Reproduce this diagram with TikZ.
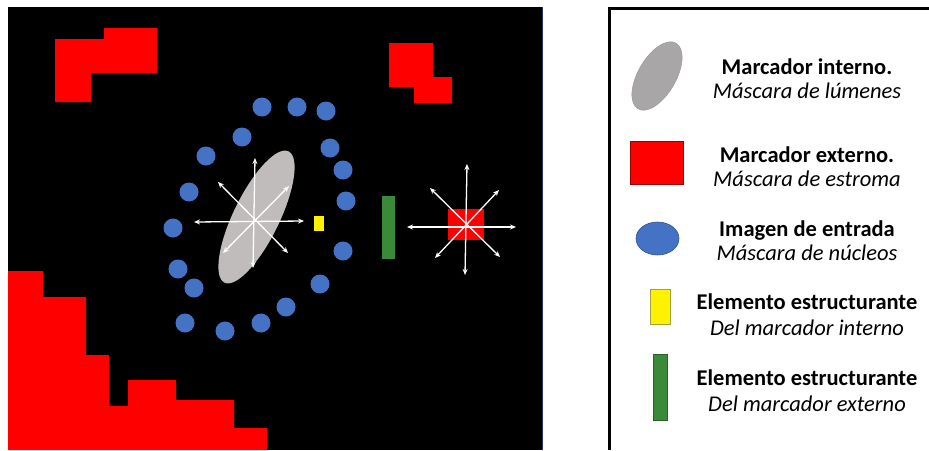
\documentclass[tikz,border=0pt]{standalone}
\usepackage{fontspec}
\setmainfont{Carlito}
\usetikzlibrary{arrows.meta,shapes.geometric}
\definecolor{nucblue}{RGB}{68,114,196}
\definecolor{nucedge}{RGB}{47,82,143}
\definecolor{lumgray}{RGB}{192,188,188}
\definecolor{leggray}{RGB}{168,166,166}
\definecolor{strgreen}{RGB}{58,138,58}
\definecolor{panelblue}{RGB}{40,50,110}
\begin{document}
\begin{tikzpicture}[x=1pt,y=-1pt,
  nucleus/.style={circle,fill=nucblue,minimum size=19pt,inner sep=0pt},
  ray/.style={draw=white,line width=1.3pt,{Stealth[length=6pt,width=5pt]}-{Stealth[length=6pt,width=5pt]}},
  boldlabel/.style={font=\fontsize{22.5}{24}\selectfont\bfseries,anchor=base,inner sep=0pt},
  itlabel/.style={font=\fontsize{22.5}{24}\selectfont\itshape,anchor=base,inner sep=0pt}]
\useasboundingbox (0,0) rectangle (929,450);
% black image panel
\fill[black] (8,7) rectangle (542,450);
\draw[panelblue,line width=0.8pt] (542,7) -- (542,450);
% stroma regions
\fill[red] (55,39) -- (104,39) -- (104,28) -- (157,28) -- (157,73) -- (91,73) -- (91,102) -- (55,102) -- cycle;
\fill[red] (389,43) -- (433,43) -- (433,77) -- (452,77) -- (452,103) -- (414,103) -- (414,87) -- (389,87) -- cycle;
\fill[red] (8,450) -- (8,271) -- (43,271) -- (43,297) -- (86,297) -- (86,355) -- (109,355) -- (109,406)
  -- (128,406) -- (128,380) -- (176,380) -- (176,400) -- (234,400) -- (234,428) -- (267,428) -- (267,450) -- cycle;
% nuclei
\foreach \n/\x/\y in {1/262/107,2/297/107,3/326/111,4/242/137,5/330/148,6/206/156,7/343/170,8/189/192,9/346/201,
  10/173/228,11/343/251,12/178/269,13/320/284,14/194/288,15/286/307,16/185/323,17/261/323,18/225/331}
  \node[nucleus] (n\n) at (\x,\y) {};
% lumen (internal marker)
\node[ellipse,fill=lumgray,minimum width=146pt,minimum height=46pt,inner sep=0pt,rotate=64] (lumen) at (256.5,217) {};
% structuring elements
\node[fill=yellow,minimum width=10pt,minimum height=15pt,inner sep=0pt] (seyellow) at (319,223.5) {};
\node[fill=strgreen,minimum width=13pt,minimum height=63pt,inner sep=0pt] (segreen) at (388.5,227.5) {};
% external marker seed
\node[fill=red,minimum width=36pt,minimum height=31pt,inner sep=0pt] (stroma) at (466,224.5) {};
% rays of the internal marker
\coordinate (lu) at (255,158);
\coordinate (ld) at (253,268);
\coordinate (ll) at (194,222);
\coordinate (lr) at (304,221);
\coordinate (lul) at (218,182);
\coordinate (lur) at (289,186);
\coordinate (ldl) at (223,253);
\coordinate (ldr) at (288,253);
\draw[ray] (lu) -- (ld);
\draw[ray] (ll) -- (lr);
\draw[ray] (lul) -- (ldr);
\draw[ray] (lur) -- (ldl);
% rays of the external marker
\coordinate (su) at (467,164);
\coordinate (sd) at (465,275);
\coordinate (sl) at (407,227);
\coordinate (sr) at (516,227);
\coordinate (sul) at (430,188);
\coordinate (sur) at (499,190);
\coordinate (sdl) at (435,258);
\coordinate (sdr) at (500,257);
\draw[ray] (su) -- (sd);
\draw[ray] (sl) -- (sr);
\draw[ray] (sul) -- (sdr);
\draw[ray] (sur) -- (sdl);
% legend frame
\draw[black,line width=3.5pt] (609.5,450) -- (609.5,8.5) -- (929,8.5);
% legend symbols
\node[ellipse,fill=leggray,draw=lumgray!80!black,line width=0.4pt,minimum width=76pt,minimum height=38pt,inner sep=0pt,rotate=60] (klumen) at (657,76) {};
\node[fill=red,draw=red!60!black,line width=0.4pt,minimum width=53pt,minimum height=43pt,inner sep=0pt] (kstroma) at (656.5,162.5) {};
\node[ellipse,fill=nucblue,draw=nucedge,line width=0.6pt,minimum width=43pt,minimum height=33pt,inner sep=0pt] (knuc) at (657.5,238.5) {};
\node[fill=yellow,draw=yellow!60!black,line width=0.3pt,minimum width=20pt,minimum height=35pt,inner sep=0pt] (kyellow) at (660,306.5) {};
\node[fill=strgreen,draw=strgreen!70!black,line width=0.3pt,minimum width=14pt,minimum height=66pt,inner sep=0pt] (kgreen) at (660,387) {};
% legend texts
\node[boldlabel] (t1a) at (807,74) {Marcador interno.};
\node[itlabel] (t1b) at (807,98) {Máscara de lúmenes};
\node[boldlabel] (t2a) at (807,162) {Marcador externo.};
\node[itlabel] (t2b) at (807,186) {Máscara de estroma};
\node[boldlabel] (t3a) at (807,236) {Imagen de entrada};
\node[itlabel] (t3b) at (807,260) {Máscara de núcleos};
\node[boldlabel] (t4a) at (807,309) {Elemento estructurante};
\node[itlabel] (t4b) at (807,335) {Del marcador interno};
\node[boldlabel] (t5a) at (807,385) {Elemento estructurante};
\node[itlabel] (t5b) at (807,411) {Del marcador externo};
\end{tikzpicture}
\end{document}
